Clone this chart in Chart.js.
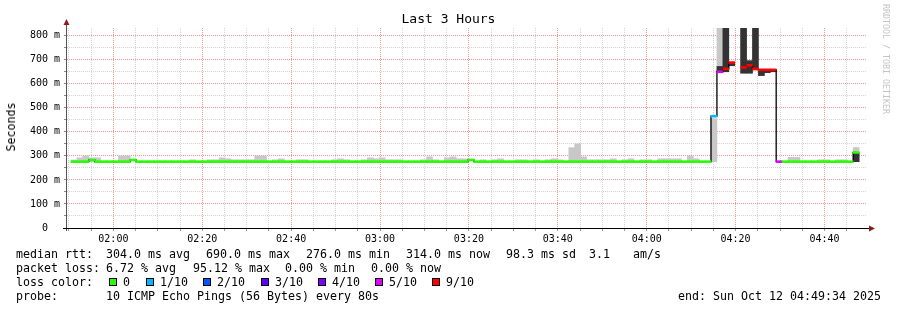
<!DOCTYPE html>
<html>
<head>
<meta charset="utf-8">
<title>Last 3 Hours</title>
<script src="https://cdn.jsdelivr.net/npm/chart.js@4.4.1/dist/chart.umd.min.js"></script>
<style>
  html, body { margin: 0; padding: 0; background: #fff; }
  #wrap { position: relative; width: 897px; height: 310px; overflow: hidden;
          font-family: 'DejaVu Sans Mono', monospace; color: #000; }
  #chart { position: absolute; left: 0; top: 0; }
  .txt { position: absolute; white-space: pre; font-size: 11.63px; line-height: 14px; }
  #title { position: absolute; left: 0; top: 11px; width: 897px; text-align: center;
           font-size: 13px; line-height: 16px; white-space: pre; }
  #ylab { position: absolute; left: 11px; top: 127px; font-size: 11.63px; line-height: 14px;
          white-space: pre; transform: translate(-50%, -50%) rotate(-90deg); }
  #mark { position: absolute; left: 881px; top: 4px; font-size: 8.3px; line-height: 10px;
          color: #c4c4c4; writing-mode: vertical-rl; white-space: pre; }
  .sw { position: absolute; width: 6px; height: 6px; border: 1px solid #000; }
</style>
</head>
<body>
<div id="wrap">
  <canvas id="chart" width="897" height="310"></canvas>
  <div id="title">Last 3 Hours</div>
  <div id="ylab">Seconds</div>
  <div id="mark">RRDTOOL / TOBI OETIKER</div>
  <div id="legend"></div>
</div>
<script>
// ─── TIME AXIS ───────────────────────────────────────────────
// minutes after midnight; window is 01:49:34 .. 04:49:34
const viewStart = 109.567;
const viewEnd   = 289.567;
const stepStart = 110.467;      // first 80 s step (01:50:28)
const stepLen   = 80 / 60;

const xTickMinutes = [120, 140, 160, 180, 200, 220, 240, 260, 280];
const xTickLabels  = ['02:00', '02:20', '02:40', '03:00', '03:20', '03:40', '04:00', '04:20', '04:40'];
const yTickLabels  = ['0  ', '100 m', '200 m', '300 m', '400 m', '500 m', '600 m', '700 m', '800 m'];

// ─── RAW DATA (ms, one entry per 80 s step) ──────────────────
const N = null;
const median = [
  276, 276, 276, 283, 276, 276, 276, 276, 276, 276,
  283, 276, 276, 276, 276, 276, 276, 276, 276, 276,
  276, 276, 276, 276, 276, 276, 276, 276, 276, 276,
  276, 276, 276, 276, 276, 276, 276, 276, 276, 276,
  276, 276, 276, 276, 276, 276, 276, 276, 276, 276,
  276, 276, 276, 276, 276, 276, 276, 276, 276, 276,
  276, 276, 276, 276, 276, 276, 276, 283, 276, 276,
  276, 276, 276, 276, 276, 276, 276, 276, 276, 276,
  276, 276, 276, 276, 276, 276, 276, 276, 276, 276,
  276, 276, 276, 276, 276, 276, 276, 276, 276, 276,
  276, 276, 276, 276, 276, 276, 276, 276, 465, 650,
  662, 688,   N, 668, 677, 662, 658, 658, 658, 276,
  276, 276, 276, 276, 276, 276, 276, 276, 276, 276,
  276, 276, 314
];

// pings lost out of 10
const lost = [
  0, 0, 0, 0, 0, 0, 0, 0, 0, 0,
  0, 0, 0, 0, 0, 0, 0, 0, 0, 0,
  0, 0, 0, 0, 0, 0, 0, 0, 0, 0,
  0, 0, 0, 0, 0, 0, 0, 0, 0, 0,
  0, 0, 0, 0, 0, 0, 0, 0, 0, 0,
  0, 0, 0, 0, 0, 0, 0, 0, 0, 0,
  0, 0, 0, 0, 0, 0, 0, 0, 0, 0,
  0, 0, 0, 0, 0, 0, 0, 0, 0, 0,
  0, 0, 0, 0, 0, 0, 0, 0, 0, 0,
  0, 0, 0, 0, 0, 0, 0, 0, 0, 0,
  0, 0, 0, 0, 0, 0, 0, 0, 1, 5,
  9, 9, 10, 9, 9, 9, 9, 9, 9, 5,
  0, 0, 0, 0, 0, 0, 0, 0, 0, 0,
  0, 0, 0
];

// outer smoke band (all pings)
const smokeLo = [
  276, 276, 276, 276, 276,   N,   N,   N, 276, 276,
    N,   N,   N,   N,   N,   N,   N,   N,   N,   N,
  276,   N,   N, 276, 276, 276, 276, 276, 276, 276,
  276, 276, 276,   N, 276, 276,   N,   N, 276, 276,
    N,   N,   N,   N, 276, 276, 276,   N,   N, 276,
  276, 276, 276, 276, 276, 276,   N,   N,   N, 276,
  276, 276,   N, 276, 276, 276, 276,   N,   N, 276,
    N, 276, 276,   N,   N, 276, 276,   N, 276,   N,
  276, 276, 276,   N, 276, 276, 276, 276, 276, 276,
  276, 276,   N, 276, 276,   N, 276, 276,   N, 276,
  276, 276, 276,   N, 276, 276,   N,   N, 276, 650,
  650, 675,   N, 644, 644, 658, 634, 646, 650,   N,
    N, 276, 276,   N,   N,   N, 276, 276,   N, 276,
  276,   N, 276
];
const smokeHi = [
  283, 292, 300, 292, 292,   N,   N,   N, 300, 300,
    N,   N,   N,   N,   N,   N,   N,   N,   N,   N,
  284,   N,   N, 284, 284, 292, 288, 284, 284, 284,
  284, 300, 300,   N, 284, 288,   N,   N, 284, 284,
    N,   N,   N,   N, 284, 288, 284,   N,   N, 284,
  292, 288, 292, 284, 284, 284,   N,   N,   N, 284,
  296, 284,   N, 292, 296, 288, 288,   N,   N, 284,
    N, 284, 288,   N,   N, 284, 284,   N, 284,   N,
  284, 288, 284,   N, 334, 350, 296, 284, 284, 284,
  284, 288,   N, 284, 288,   N, 284, 284,   N, 288,
  288, 288, 288,   N, 300, 288,   N,   N, 455, 850,
  850, 690,   N, 850, 696, 850, 658, 658, 658,   N,
    N, 294, 294,   N,   N,   N, 284, 284,   N, 284,
  284,   N, 335
];

// inner (dense) smoke band
const coreLo = [
  N, N, N, N, N, N, N, N, N, N,
  N, N, N, N, N, N, N, N, N, N,
  N, N, N, N, N, N, N, N, N, N,
  N, N, N, N, N, N, N, N, N, N,
  N, N, N, N, N, N, N, N, N, N,
  N, N, N, N, N, N, N, N, N, N,
  N, N, N, N, N, N, N, N, N, N,
  N, N, N, N, N, N, N, N, N, N,
  N, N, N, N, N, N, N, N, N, N,
  N, N, N, N, N, N, N, N, N, N,
  N, N, N, N, N, N, N, N, N, 650,
  650, 675, N, 644, 644, 658, 634, 646, 650, N,
  N, N, N, N, N, N, N, N, N, N,
  N, N, 276
];
const coreHi = [
  N, N, N, N, N, N, N, N, N, N,
  N, N, N, N, N, N, N, N, N, N,
  N, N, N, N, N, N, N, N, N, N,
  N, N, N, N, N, N, N, N, N, N,
  N, N, N, N, N, N, N, N, N, N,
  N, N, N, N, N, N, N, N, N, N,
  N, N, N, N, N, N, N, N, N, N,
  N, N, N, N, N, N, N, N, N, N,
  N, N, N, N, N, N, N, N, N, N,
  N, N, N, N, N, N, N, N, N, N,
  N, N, N, N, N, N, N, N, N, 672,
  850, 690, N, 850, 696, 850, 658, 658, 658, N,
  N, N, N, N, N, N, N, N, N, N,
  N, N, 314
];

// ─── LOSS COLOURS ────────────────────────────────────────────
const lossSteps  = [0, 1, 2, 3, 4, 5, 9];
const lossLabels = ['0', '1/10', '2/10', '3/10', '4/10', '5/10', '9/10'];
const lossColors = ['#26ff00', '#00b8ff', '#0059ff', '#5e00ff', '#7e00ff', '#dd00ff', '#ff0000'];

function lossColor(n) {
    let c = lossColors[0];
    lossSteps.forEach((s, i) => { if (n >= s) c = lossColors[i]; });
    return c;
}

// ─── LEGEND TEXT ─────────────────────────────────────────────
const legendLines = [
    { top: 247, parts: [['median rtt:', 16], ['304.0 ms avg', 106], ['690.0 ms max', 206],
                        ['276.0 ms min', 306], ['314.0 ms now', 406], ['98.3 ms sd', 506],
                        ['3.1', 589], ['am/s', 633]] },
    { top: 261, parts: [['packet loss:', 16], ['6.72 % avg', 106], ['95.12 % max', 193],
                        ['0.00 % min', 285], ['0.00 % now', 371]] },
    { top: 275, parts: [['loss color:', 16]] },
    { top: 289, parts: [['probe:', 16], ['10 ICMP Echo Pings (56 Bytes) every 80s', 106]] }
];
const swatchX = [109, 146, 203, 261, 318, 375, 432];

const legend = document.getElementById('legend');
legendLines.forEach(line => {
    line.parts.forEach(([text, x]) => {
        const d = document.createElement('div');
        d.className = 'txt';
        d.style.left = x + 'px';
        d.style.top = line.top + 'px';
        d.textContent = text;
        legend.appendChild(d);
    });
});
lossLabels.forEach((lab, i) => {
    const sw = document.createElement('div');
    sw.className = 'sw';
    sw.style.left = swatchX[i] + 'px';
    sw.style.top = '278px';
    sw.style.background = lossColors[i];
    legend.appendChild(sw);
    const t = document.createElement('div');
    t.className = 'txt';
    t.style.left = (swatchX[i] + 14) + 'px';
    t.style.top = '275px';
    t.textContent = lab;
    legend.appendChild(t);
});
const endTxt = document.createElement('div');
endTxt.className = 'txt';
endTxt.style.right = '16px';
endTxt.style.top = '289px';
endTxt.textContent = 'end: Sun Oct 12 04:49:34 2025';
legend.appendChild(endTxt);

// ─── CHART ───────────────────────────────────────────────────
const stepX = median.map((_, k) => stepStart + (k + 0.5) * stepLen);
const band = (lo, hi) => stepX.map((x, k) => ({ x, y: (lo[k] == null || hi[k] == null) ? null : [lo[k], hi[k]] }));

const MAJOR = 'rgb(244, 150, 150)';
const MINOR = 'rgb(212, 212, 212)';

const barBase = { type: 'bar', grouped: false, barPercentage: 1, categoryPercentage: 1, borderWidth: 0 };

const axisPlugin = {
    id: 'axisArrows',
    afterDatasetsDraw(chart) {
        const { ctx, chartArea: a } = chart;
        ctx.save();
        ctx.lineWidth = 1;
        ctx.strokeStyle = '#555';
        ctx.beginPath();
        ctx.moveTo(a.left - 0.5, a.bottom + 3);
        ctx.lineTo(a.left - 0.5, a.top - 5);
        ctx.stroke();
        ctx.strokeStyle = '#000';
        ctx.beginPath();
        ctx.moveTo(a.left - 4, a.bottom + 0.5);
        ctx.lineTo(a.right + 2, a.bottom + 0.5);
        ctx.stroke();
        ctx.fillStyle = '#8b1c1c';
        ctx.beginPath();
        ctx.moveTo(a.left - 0.5, a.top - 9);
        ctx.lineTo(a.left - 3.5, a.top - 3);
        ctx.lineTo(a.left + 2.5, a.top - 3);
        ctx.closePath();
        ctx.fill();
        ctx.beginPath();
        ctx.moveTo(a.right + 8, a.bottom + 0.5);
        ctx.lineTo(a.right + 2, a.bottom - 2.5);
        ctx.lineTo(a.right + 2, a.bottom + 3.5);
        ctx.closePath();
        ctx.fill();
        ctx.restore();
    }
};

Chart.defaults.font.family = "'DejaVu Sans Mono', monospace";

new Chart(document.getElementById('chart'), {
    type: 'bar',
    data: {
        datasets: [
            { ...barBase, label: 'loss', order: 1,
              data: stepX.map((x, k) => ({ x, y: median[k] == null ? null : [median[k] - 4, median[k] + 4] })),
              backgroundColor: ctx => lossColor(lost[ctx.dataIndex]) },
            { type: 'line', label: 'median', order: 2,
              data: stepX.map((x, k) => ({ x, y: median[k] })),
              stepped: 'middle', borderColor: '#000', borderWidth: 1.3,
              pointRadius: 0, spanGaps: false },
            { ...barBase, label: 'core', order: 3, data: band(coreLo, coreHi), backgroundColor: '#333333' },
            { ...barBase, label: 'smoke', order: 4, data: band(smokeLo, smokeHi), backgroundColor: '#c8c8c8' }
        ]
    },
    options: {
        responsive: false,
        animation: false,
        layout: { padding: { left: 0, right: 30, top: 28, bottom: 60 } },
        plugins: { legend: { display: false }, tooltip: { enabled: false } },
        scales: {
            x: {
                type: 'linear', min: viewStart, max: viewEnd, offset: false,
                afterBuildTicks: s => {
                    const t = [];
                    for (let m = 110; m <= 285; m += 5) t.push({ value: m });
                    s.ticks = t;
                },
                afterFit: s => { s.height = 22; },
                grid: {
                    offset: false, lineWidth: 1, tickLength: 3, tickColor: '#999',
                    color: c => (c.tick && c.tick.value % 20 === 0) ? MAJOR : MINOR
                },
                border: { display: false, dash: [1, 1] },
                ticks: {
                    autoSkip: false, maxRotation: 0, padding: 2, color: '#000',
                    font: { size: 10 },
                    callback: v => {
                        const i = xTickMinutes.indexOf(v);
                        return i >= 0 ? xTickLabels[i] : '';
                    }
                }
            },
            y: {
                min: 0, max: 832,
                afterBuildTicks: s => {
                    const t = [];
                    for (let v = 0; v <= 800; v += 50) t.push({ value: v });
                    s.ticks = t;
                },
                afterFit: s => { s.width = 67; },
                grid: {
                    lineWidth: 1, tickLength: 3, tickColor: '#888',
                    color: c => (c.tick && c.tick.value % 100 === 0) ? MAJOR : MINOR
                },
                border: { display: false, dash: [1, 1] },
                ticks: {
                    autoSkip: false, padding: 4, color: '#000',
                    font: { size: 10 },
                    callback: v => v % 100 === 0 ? yTickLabels[v / 100] : ''
                }
            }
        }
    },
    plugins: [axisPlugin]
});
</script>
</body>
</html>
